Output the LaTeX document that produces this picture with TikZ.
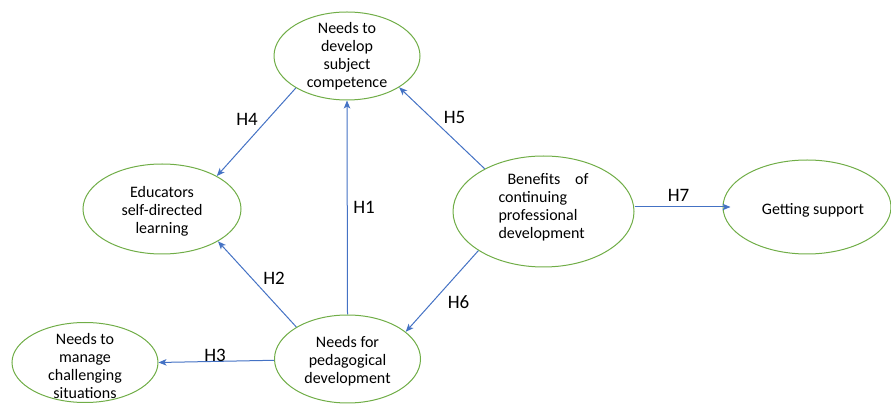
\documentclass[tikz,border=0pt]{standalone}
\usepackage{fontspec}
\setmainfont{Carlito}
\usetikzlibrary{shapes.geometric,arrows.meta}

\definecolor{ovalgreen}{HTML}{70AD47}
\definecolor{arrowblue}{HTML}{4472C4}

\begin{document}
\begin{tikzpicture}[x=1pt,y=1pt,
		oval/.style={ellipse,draw=ovalgreen,line width=1pt,inner sep=0pt},
		txt/.style={align=center,font=\fontsize{16}{18}\selectfont,inner sep=0pt},
		hyp/.style={font=\fontsize{19}{22}\selectfont,inner sep=0pt},
		link/.style={draw=arrowblue,line width=1pt,-{Stealth[length=8pt,width=6.5pt,inset=2pt]}}]
		\useasboundingbox (0,0) rectangle (891,404);

		% the six constructs
		\node[oval,minimum width=146,minimum height=88] (subj) at (347,348) {};
		\node[oval,minimum width=158,minimum height=90] (educ) at (162,195) {};
		\node[oval,minimum width=181,minimum height=111] (bene) at (543.5,192.5) {};
		\node[oval,minimum width=168,minimum height=94] (supp) at (807,197) {};
		\node[oval,minimum width=146,minimum height=88] (pedag) at (347.5,45) {};
		\node[oval,minimum width=146,minimum height=80] (chal) at (85,41.5) {};

		\node[txt] (subjtxt) at (subj) {Needs to\\develop\\subject\\competence};
		\node[txt] (eductxt) at ([yshift=-2]educ.center) {Educators\\self-directed\\learning};
		\node[txt,align=left,text width=90] (benetxt) at ([yshift=4]bene.center) {\hspace*{9pt}Benefits\hfill of\\continuing\\professional\\development};
		\node[txt] (supptxt) at ([xshift=6,yshift=-3]supp.center) {Getting support};
		\node[txt] (pedagtxt) at ([yshift=-2]pedag.center) {Needs for\\pedagogical\\development};
		\node[txt] (chaltxt) at ([yshift=-4]chal.center) {Needs to\\manage\\challenging\\situations};

		% hypotheses
		\draw[link] (pedag.north) -- (subj.south);
		\draw[link] (pedag.148) -- (educ.330);
		\draw[link] (pedag.181) -- (chal.0);
		\draw[link] (subj.212) -- (educ.31);
		\draw[link] (bene.144) -- (subj.329);
		\draw[link] (bene.211) -- (pedag.25);
		\draw[link] (bene.east |- supp.west) -- ([xshift=8]supp.west);

		\node[hyp] (h1) at (364,197) {H1};
		\node[hyp] (h2) at (274,126) {H2};
		\node[hyp] (h3) at (215,49) {H3};
		\node[hyp] (h4) at (247,285) {H4};
		\node[hyp] (h5) at (454.5,287) {H5};
		\node[hyp] (h6) at (458.5,102) {H6};
		\node[hyp] (h7) at (678.5,209) {H7};
\end{tikzpicture}
\end{document}
